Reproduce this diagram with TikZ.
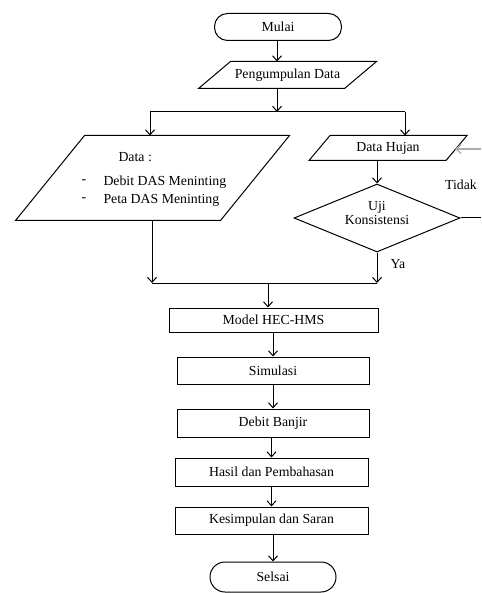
\documentclass[tikz,border=0pt]{standalone}
\usepackage{fontspec}
\setmainfont{Liberation Serif}
\usetikzlibrary{arrows.meta,shapes.geometric}
\begin{document}
\begin{tikzpicture}[x=1pt,y=-1pt,
  font=\fontsize{13.8}{16}\selectfont,
  every path/.style={line width=1pt},
  lbl/.style={inner sep=0pt},
  boxnode/.style={draw,rectangle,inner sep=0pt},
  term/.style={draw,rectangle,rounded corners=13pt,inner sep=0pt},
  shell/.style={rectangle,inner sep=0pt},
  flow/.style={-{Straight Barb[length=5pt,width=9pt]}},
  loop/.style={draw=gray!65,line width=1.4pt,-{Straight Barb[length=5pt,width=9pt]}}]
\useasboundingbox (0,0) rectangle (481,593);
% start
\node[term,minimum width=127pt,minimum height=27pt] (mulai) at (278,27) {Mulai};
% Pengumpulan Data
\node[shell,minimum width=145pt,minimum height=26pt] (pd) at (287.5,75) {Pengumpulan Data};
\draw ([xshift=16pt]pd.north west) -- ([xshift=16pt]pd.north east)
      -- ([xshift=-16pt]pd.south east) -- ([xshift=-16pt]pd.south west) -- cycle;
% junction
\coordinate (j1m) at (277,112);
\coordinate (j1l) at (150,112);
\coordinate (j1r) at (405,112);
% Data
\node[shell,minimum width=204pt,minimum height=84pt] (dt) at (152.5,178) {};
\draw ([xshift=34.5pt]dt.north west) -- ([xshift=34.5pt]dt.north east)
      -- ([xshift=-34.5pt]dt.south east) -- ([xshift=-34.5pt]dt.south west) -- cycle;
\node[lbl,anchor=west] (dtt) at (118,157) {Data :};
\node[lbl] (d1) at (84,182) {-};
\node[lbl,anchor=west] (d1t) at (103,182) {Debit DAS Meninting};
\node[lbl] (d2) at (84,200) {-};
\node[lbl,anchor=west] (d2t) at (103,200) {Peta DAS Meninting};
% Data Hujan
\node[shell,minimum width=136pt,minimum height=24pt] (dh) at (388,148) {Data Hujan};
\draw ([xshift=10.5pt]dh.north west) -- ([xshift=10.5pt]dh.north east)
      -- ([xshift=-10.5pt]dh.south east) -- ([xshift=-10.5pt]dh.south west) -- cycle;
\coordinate (dhr) at (455,149);
\coordinate (loopin) at (481,149);
% Uji Konsistensi
\node[draw,diamond,inner sep=0pt,aspect=2.44,minimum width=166pt,minimum height=68pt] (uk) at (377,218) {};
\node[lbl,align=center,font=\fontsize{13.8}{14}\selectfont] (ukt) at (377,213) {Uji\\Konsistensi};
\coordinate (loopout) at (481,218);
\node[lbl] (tidak) at (461,185) {Tidak};
\node[lbl] (ya) at (398,264) {Ya};
% junction 2
\coordinate (j2l) at (152,283);
\coordinate (j2r) at (377,283);
\coordinate (j2m) at (268,283);
% process boxes
\node[boxnode,minimum width=209pt,minimum height=24pt] (mh) at (273.5,320) {Model HEC-HMS};
\node[boxnode,minimum width=192pt,minimum height=27pt] (sm) at (273,370.5) {Simulasi};
\node[boxnode,minimum width=192pt,minimum height=28pt] (db) at (273,423) {Debit Banjir};
\node[boxnode,minimum width=193pt,minimum height=28pt] (hp) at (271.5,472) {Hasil dan Pembahasan};
\node[boxnode,minimum width=193pt,minimum height=27pt] (ks) at (271.5,520.5) {Kesimpulan dan Saran};
\node[term,minimum width=126pt,minimum height=30pt,rounded corners=15pt] (se) at (273,577) {Selsai};
% connectors
\draw[flow] (mulai.south -| j1m) -- (j1m |- pd.north);
\draw[flow] (j1m |- pd.south) -- (j1m);
\draw (j1l) -- (j1r);
\draw[flow] (j1l) -- (j1l |- dt.north);
\draw[flow] (j1r) -- (j1r |- dh.north);
\draw[flow] (j2r |- dh.south) -- (uk.north);
\draw (uk.east) -- (loopout);
\draw[loop] (loopin) -- (dhr);
\draw[flow] (j2l |- dt.south) -- (j2l);
\draw[flow] (uk.south) -- (j2r);
\draw (j2l) -- (j2r);
\draw[flow] (j2m) -- (j2m |- mh.north);
\draw[flow] (mh.south -| sm.center) -- (sm.north);
\draw[flow] (sm.south) -- (db.north);
\draw[flow] (db.south -| hp.center) -- (hp.north);
\draw[flow] (hp.south) -- (ks.north);
\draw[flow] (ks.south -| se.center) -- (se.north);
\end{tikzpicture}
\end{document}
